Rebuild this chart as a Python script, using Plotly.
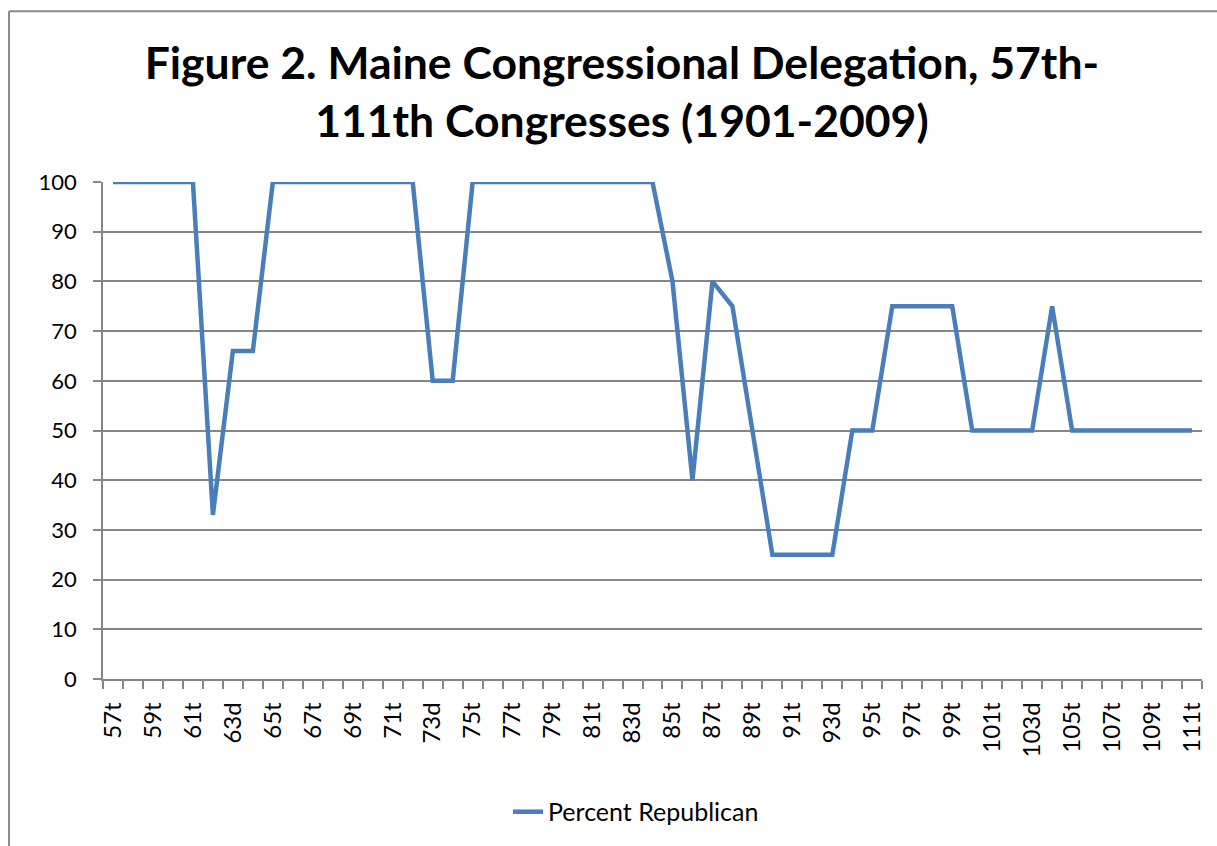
import plotly.graph_objects as go

congress_labels = [
    "57t", "58t", "59t", "60t", "61t", "62d", "63d", "64t", "65t", "66t",
    "67t", "68t", "69t", "70t", "71t", "72d", "73d", "74t", "75t", "76t",
    "77t", "78t", "79t", "80t", "81t", "82d", "83d", "84t", "85t", "86t",
    "87t", "88t", "89t", "90t", "91t", "92d", "93d", "94t", "95t", "96t",
    "97t", "98t", "99t", "100t", "101t", "102d", "103d", "104t", "105t", "106t",
    "107t", "108t", "109t", "110t", "111t",
]
percent_republican = [
    100, 100, 100, 100, 100, 33, 66, 66, 100, 100,
    100, 100, 100, 100, 100, 100, 60, 60, 100, 100,
    100, 100, 100, 100, 100, 100, 100, 100, 80, 40,
    80, 75, 50, 25, 25, 25, 25, 50, 50, 75,
    75, 75, 75, 50, 50, 50, 50, 75, 50, 50,
    50, 50, 50, 50, 50,
]
shown_labels = congress_labels[::2]
y_ticks = [0, 10, 20, 30, 40, 50, 60, 70, 80, 90, 100]

FONT = "Lato"
GRID = "#868686"

fig = go.Figure()
fig.add_trace(go.Scatter(
    x=congress_labels, y=percent_republican, mode="lines",
    name="Percent Republican",
    line=dict(color="#4A7EBB", width=4.5),
))

fig.update_layout(
    width=1217, height=846,
    paper_bgcolor="white", plot_bgcolor="white",
    margin=dict(l=103, r=15, t=182, b=166),
    font=dict(family=FONT, color="#000000", size=22),
    title=dict(
        text="<b>Figure 2. Maine Congressional Delegation, 57th-<br>111th Congresses (1901-2009)</b>",
        x=0.511, xanchor="center", y=1 - 79 / 846, yanchor="top",
        font=dict(family=FONT, size=44.5, color="#000000"),
    ),
    showlegend=True,
    legend=dict(orientation="h", x=0.485, xanchor="center", y=-0.265, yanchor="middle",
                font=dict(size=25)),
    xaxis=dict(
        type="category", categoryorder="array", categoryarray=congress_labels,
        range=[-0.5, len(congress_labels) - 0.5],
        tickmode="array", tickvals=congress_labels,
        ticktext=[lab if lab in shown_labels else "" for lab in congress_labels],
        tickson="boundaries", ticks="outside", ticklen=8, tickcolor=GRID, tickwidth=1.5,
        tickangle=-90, ticklabelstandoff=12,
        showline=True, linecolor=GRID, linewidth=1.5,
        showgrid=False, zeroline=False, tickfont=dict(size=24),
    ),
    yaxis=dict(
        range=[0, 100], tickvals=y_ticks,
        ticks="outside", ticklen=8, tickcolor=GRID, tickwidth=1.5,
        ticklabelstandoff=12,
        showline=True, linecolor=GRID, linewidth=1.5,
        showgrid=True, gridcolor=GRID, gridwidth=1.5, zeroline=False,
        tickfont=dict(size=22),
    ),
    shapes=[
        dict(type="line", xref="paper", yref="paper",
             x0=-94 / 1099, x1=1.1, y0=1 + 171 / 498, y1=1 + 171 / 498,
             line=dict(color="#8C8C8C", width=2)),
        dict(type="line", xref="paper", yref="paper",
             x0=-94 / 1099, x1=-94 / 1099, y0=1 + 171 / 498, y1=-0.4,
             line=dict(color="#8C8C8C", width=2)),
    ],
)

fig.write_html("out.html", config={"displayModeBar": False},
               post_script="document.body.style.margin='0px';")
